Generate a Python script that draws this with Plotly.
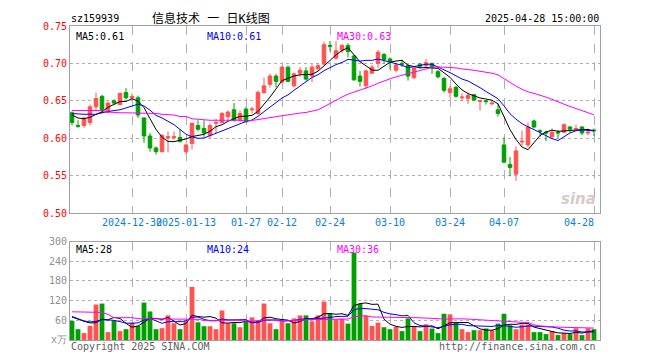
import plotly.graph_objects as go
import pandas as pd

dates = [
    "2024-12-16", "2024-12-17", "2024-12-18", "2024-12-19", "2024-12-20", "2024-12-23",
    "2024-12-24", "2024-12-25", "2024-12-26", "2024-12-27", "2024-12-30", "2024-12-31",
    "2025-01-02", "2025-01-03", "2025-01-06", "2025-01-07", "2025-01-08", "2025-01-09",
    "2025-01-10", "2025-01-13", "2025-01-14", "2025-01-15", "2025-01-16", "2025-01-17",
    "2025-01-20", "2025-01-21", "2025-01-22", "2025-01-23", "2025-01-24", "2025-01-27",
    "2025-02-05", "2025-02-06", "2025-02-07", "2025-02-10", "2025-02-11", "2025-02-12",
    "2025-02-13", "2025-02-14", "2025-02-17", "2025-02-18", "2025-02-19", "2025-02-20",
    "2025-02-21", "2025-02-24", "2025-02-25", "2025-02-26", "2025-02-27", "2025-02-28",
    "2025-03-03", "2025-03-04", "2025-03-05", "2025-03-06", "2025-03-07", "2025-03-10",
    "2025-03-11", "2025-03-12", "2025-03-13", "2025-03-14", "2025-03-17", "2025-03-18",
    "2025-03-19", "2025-03-20", "2025-03-21", "2025-03-24", "2025-03-25", "2025-03-26",
    "2025-03-27", "2025-03-28", "2025-03-31", "2025-04-01", "2025-04-02", "2025-04-03",
    "2025-04-07", "2025-04-08", "2025-04-09", "2025-04-10", "2025-04-11", "2025-04-14",
    "2025-04-15", "2025-04-16", "2025-04-17", "2025-04-18", "2025-04-21", "2025-04-22",
    "2025-04-23", "2025-04-24", "2025-04-25", "2025-04-28",
]

open_ = [
    0.634, 0.617, 0.617, 0.621, 0.642, 0.656, 0.635, 0.650, 0.645, 0.661, 0.654, 0.654,
    0.627, 0.603, 0.587, 0.582, 0.601, 0.601, 0.601, 0.582, 0.593, 0.617, 0.613, 0.604,
    0.620, 0.621, 0.629, 0.638, 0.624, 0.639, 0.638, 0.633, 0.661, 0.672, 0.683, 0.675,
    0.695, 0.670, 0.687, 0.690, 0.683, 0.693, 0.699, 0.724, 0.707, 0.718, 0.724, 0.710,
    0.683, 0.670, 0.687, 0.700, 0.712, 0.706, 0.691, 0.700, 0.697, 0.681, 0.699, 0.697,
    0.700, 0.689, 0.680, 0.661, 0.668, 0.654, 0.653, 0.658, 0.649, 0.650, 0.646, 0.638,
    0.591, 0.565, 0.552, 0.595, 0.591, 0.623, 0.610, 0.608, 0.602, 0.608, 0.608, 0.615,
    0.612, 0.615, 0.607, 0.611,
]
high = [
    0.636, 0.624, 0.628, 0.645, 0.661, 0.658, 0.649, 0.652, 0.661, 0.667, 0.660, 0.657,
    0.628, 0.607, 0.589, 0.605, 0.609, 0.609, 0.612, 0.593, 0.621, 0.624, 0.624, 0.620,
    0.626, 0.635, 0.637, 0.647, 0.637, 0.642, 0.642, 0.664, 0.681, 0.686, 0.686, 0.697,
    0.697, 0.688, 0.695, 0.695, 0.699, 0.700, 0.729, 0.730, 0.730, 0.726, 0.727, 0.711,
    0.690, 0.692, 0.698, 0.718, 0.714, 0.708, 0.701, 0.705, 0.699, 0.696, 0.700, 0.706,
    0.701, 0.691, 0.682, 0.670, 0.670, 0.660, 0.661, 0.659, 0.651, 0.651, 0.650, 0.646,
    0.601, 0.575, 0.589, 0.610, 0.621, 0.625, 0.612, 0.610, 0.613, 0.611, 0.620, 0.616,
    0.618, 0.616, 0.613, 0.613,
]
low = [
    0.617, 0.614, 0.614, 0.617, 0.636, 0.633, 0.633, 0.645, 0.644, 0.652, 0.652, 0.627,
    0.594, 0.582, 0.578, 0.581, 0.581, 0.598, 0.594, 0.579, 0.585, 0.609, 0.602, 0.600,
    0.607, 0.620, 0.624, 0.622, 0.622, 0.621, 0.633, 0.631, 0.659, 0.668, 0.668, 0.673,
    0.675, 0.668, 0.682, 0.677, 0.675, 0.690, 0.699, 0.716, 0.705, 0.714, 0.708, 0.677,
    0.669, 0.666, 0.686, 0.694, 0.700, 0.692, 0.688, 0.695, 0.677, 0.679, 0.693, 0.694,
    0.686, 0.680, 0.661, 0.654, 0.654, 0.650, 0.646, 0.650, 0.637, 0.645, 0.644, 0.629,
    0.567, 0.549, 0.543, 0.590, 0.588, 0.613, 0.602, 0.596, 0.600, 0.600, 0.607, 0.607,
    0.610, 0.604, 0.604, 0.603,
]
close = [
    0.621, 0.616, 0.627, 0.642, 0.653, 0.638, 0.647, 0.647, 0.660, 0.654, 0.656, 0.631,
    0.603, 0.587, 0.582, 0.604, 0.602, 0.602, 0.596, 0.591, 0.620, 0.612, 0.607, 0.617,
    0.621, 0.633, 0.635, 0.624, 0.633, 0.622, 0.639, 0.661, 0.670, 0.683, 0.676, 0.695,
    0.676, 0.686, 0.691, 0.679, 0.695, 0.697, 0.725, 0.723, 0.717, 0.724, 0.716, 0.678,
    0.676, 0.690, 0.695, 0.715, 0.705, 0.703, 0.698, 0.699, 0.683, 0.694, 0.696, 0.701,
    0.694, 0.682, 0.664, 0.666, 0.656, 0.655, 0.657, 0.651, 0.650, 0.649, 0.647, 0.633,
    0.568, 0.561, 0.583, 0.596, 0.615, 0.615, 0.609, 0.607, 0.608, 0.607, 0.618, 0.612,
    0.613, 0.607, 0.608, 0.610,
]
# volume, 万手
volume = [
    58, 33, 21, 43, 108, 111, 24, 58, 27, 33, 53, 43,
    114, 87, 33, 36, 75, 51, 33, 57, 162, 54, 42, 42,
    33, 90, 51, 51, 39, 57, 69, 60, 111, 51, 33, 57,
    51, 66, 75, 75, 57, 75, 117, 80, 63, 65, 50, 267,
    110, 73, 43, 53, 39, 33, 40, 27, 66, 40, 27, 48,
    35, 21, 80, 78, 52, 33, 24, 30, 30, 35, 30, 50,
    80, 45, 33, 47, 47, 24, 24, 18, 27, 15, 21, 18,
    36, 15, 36, 33,
]

# moving-average values before a full window exists
ma5_head = [0.631, 0.627, 0.626, 0.628]
ma10_head = [0.633, 0.632, 0.632, 0.632, 0.632, 0.634, 0.636, 0.637, 0.638]
ma30_head = [0.637, 0.637, 0.637, 0.637, 0.637, 0.637, 0.635, 0.634, 0.634, 0.634,
             0.634, 0.634, 0.634, 0.633, 0.633, 0.632, 0.632, 0.631, 0.629, 0.629,
             0.626, 0.625, 0.625, 0.624, 0.624, 0.624, 0.624, 0.624, 0.624]
vma5_head = [70, 63, 57, 52]
vma10_head = [72, 64, 58, 55, 57, 62, 62, 60, 56]
vma30_head = [86, 86, 86, 86, 84, 84, 78, 68, 68, 68, 68, 65, 65, 65, 65, 65, 65, 65,
              65, 63, 63, 63, 60, 60, 60, 60, 60, 60, 60]

x_ticks = ["2024-12-30", "2025-01-13", "2025-01-27", "2025-02-12", "2025-02-24",
           "2025-03-10", "2025-03-24", "2025-04-07", "2025-04-28"]
x_ticktext = ["2024-12-30", "2025-01-13", "01-27", "02-12", "02-24",
              "03-10", "03-24", "04-07", "04-28\u00a0\u00a0\u00a0\u00a0\u00a0"]
price_ticks = [0.50, 0.55, 0.60, 0.65, 0.70, 0.75]
vol_ticks = [0, 60, 120, 180, 240, 300]
vol_ticktext = ["x万", "60", "120", "180", "240", "300"]


def ma(values, n, head):
    s = pd.Series(values, dtype=float).rolling(n).mean()
    s.iloc[: n - 1] = head
    return s.tolist()


ma5, ma10, ma30 = ma(close, 5, ma5_head), ma(close, 10, ma10_head), ma(close, 30, ma30_head)
vma5, vma10, vma30 = ma(volume, 5, vma5_head), ma(volume, 10, vma10_head), ma(volume, 30, vma30_head)

RED = "#ff5252"
GREEN = "#00a000"
MONO = "DejaVu Sans Mono"
GRID = "#b0b0b0"
FRAME = "#a0a0a0"

fig = go.Figure()
fig.add_trace(go.Candlestick(
    x=dates, open=open_, high=high, low=low, close=close,
    increasing=dict(line=dict(color=RED, width=1), fillcolor=RED),
    decreasing=dict(line=dict(color=GREEN, width=1), fillcolor=GREEN),
    whiskerwidth=0, xaxis="x", yaxis="y", hoverinfo="skip",
))
for series, color in [(ma5, "black"), (ma10, "#0000ff"), (ma30, "#ff00ff")]:
    fig.add_trace(go.Scatter(x=dates, y=series, mode="lines",
                             line=dict(color=color, width=1), xaxis="x", yaxis="y"))

bar_colors = [RED if c > o else GREEN for o, c in zip(open_, close)]
fig.add_trace(go.Bar(x=dates, y=volume, marker=dict(color=bar_colors, line=dict(width=0)),
                     width=0.8, xaxis="x2", yaxis="y2"))
for series, color in [(vma5, "black"), (vma10, "#0000ff"), (vma30, "#ff00ff")]:
    fig.add_trace(go.Scatter(x=dates, y=series, mode="lines",
                             line=dict(color=color, width=1), xaxis="x2", yaxis="y2"))

# page-pixel geometry of the plotting area; the page body adds an 8px offset
OFF = 8
PL, PR, PT, PB = 70, 600, 21, 340
FW, FH = 660, 360
margin = dict(l=PL - OFF, r=FW - (PR - OFF), t=PT - OFF, b=FH - (PB - OFF))
PW, PH = PR - PL, PB - PT


def py(pix):
    return (PB - pix) / PH


def px(pix):
    return (pix - PL) / PW


xcommon = dict(
    type="category", categoryorder="array", categoryarray=dates,
    range=[-0.333, len(dates)], showgrid=True, gridcolor=GRID, griddash="dash", gridwidth=1,
    showline=True, mirror=True, linecolor=FRAME, linewidth=1, ticks="",
    tickvals=x_ticks, ticktext=x_ticktext, tickangle=0, zeroline=False, fixedrange=True,
)
fig.update_layout(
    width=FW, height=FH, margin=margin,
    paper_bgcolor="white", plot_bgcolor="white", showlegend=False, boxgap=0.15,
    bargap=0.2,
    xaxis=dict(xcommon, anchor="y", domain=[0, 1],
               tickfont=dict(family=MONO, size=10, color="#0a7fd4"),
               rangeslider=dict(visible=False)),
    xaxis2=dict(xcommon, anchor="y2", domain=[0, 1], showticklabels=False),
    yaxis=dict(domain=[py(211), 1], range=[0.50, 0.75], tickvals=price_ticks,
               tickformat=".2f", tickfont=dict(family=MONO, size=10, color="#ff0000"),
               showgrid=True, gridcolor=GRID, griddash="dot", gridwidth=1,
               showline=True, mirror=True, linecolor=FRAME, linewidth=1,
               zeroline=False, ticks="", fixedrange=True),
    yaxis2=dict(domain=[0, py(240)], range=[0, 300], tickvals=vol_ticks,
                ticktext=vol_ticktext, tickfont=dict(family=MONO, size=10, color="#909090"),
                showgrid=True, gridcolor=GRID, griddash="dot", gridwidth=1,
                showline=True, mirror=True, linecolor=FRAME, linewidth=1,
                zeroline=False, ticks="", fixedrange=True),
)

ann = []


def text(s, xpix, ypix, color="black", anchor="left", size=10, family=MONO):
    ann.append(dict(text=s, x=px(xpix), y=py(ypix), xref="paper", yref="paper",
                    xanchor=anchor, yanchor="middle", showarrow=False,
                    font=dict(family=family, size=size, color=color)))


text("sz159939", 69, 13)
text("信息技术\u00a0一\u00a0日K线图", 150, 13, size=12,
     family="DejaVu Sans Mono, Noto Sans CJK SC")
text("2025-04-28 15:00:00", 601, 13, anchor="right")
text(f"MA5:{ma5[-1]:.2f}", 74, 32)
text(f"MA10:{ma10[-1]:.2f}", 205, 32, color="#0000ff")
text(f"MA30:{ma30[-1]:.2f}", 335, 32, color="#ff00ff")
text(f"MA5:{vma5[-1]:.0f}", 74, 248)
text(f"MA10:{vma10[-1]:.0f}", 205, 248, color="#0000ff")
text(f"MA30:{vma30[-1]:.0f}", 335, 248, color="#ff00ff")
text("Copyright 2025 SINA.COM", 69, 347, color="#606060")
text("http://finance.sina.com.cn", 598, 347, color="#606060", anchor="right")
ann.append(dict(text="<b><i>sina</i></b>", x=px(598), y=py(197), xref="paper", yref="paper",
                xanchor="right", yanchor="middle", showarrow=False,
                font=dict(family="DejaVu Sans", size=15, color="rgba(200,175,175,0.7)")))
fig.update_layout(annotations=ann)

fig.write_html("out.html")
